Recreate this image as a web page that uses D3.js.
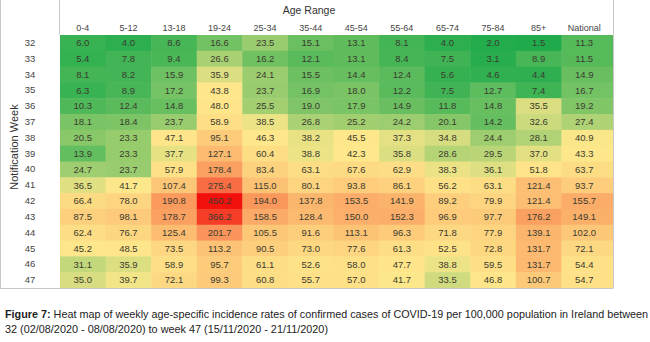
<!DOCTYPE html>
<html>
<head>
<meta charset="utf-8">
<script src="https://cdn.jsdelivr.net/npm/d3@7"></script>
<style>
  html, body { margin: 0; padding: 0; background: #fff; }
  svg { display: block; font-family: "Liberation Sans", Arial, sans-serif; }
</style>
</head>
<body>
<svg id="chart" width="650" height="342"></svg>
<script>
// Age groups (columns) and notification weeks (rows)
const ageGroups = ["0-4", "5-12", "13-18", "19-24", "25-34", "35-44", "45-54", "55-64", "65-74", "75-84", "85+", "National"];
const weeks = [32, 33, 34, 35, 36, 37, 38, 39, 40, 41, 42, 43, 44, 45, 46, 47];

// Weekly incidence per 100,000, one array per age group (weeks 32..47)
const age0_4   = [6.0, 5.4, 8.1, 6.3, 10.3, 18.1, 20.5, 13.9, 24.7, 36.5, 66.4, 87.5, 62.4, 45.2, 31.1, 35.0];
const age5_12  = [4.0, 7.8, 8.2, 8.9, 12.4, 18.4, 23.3, 23.3, 23.7, 41.7, 78.0, 98.1, 76.7, 48.5, 35.9, 39.7];
const age13_18 = [8.6, 9.4, 15.9, 17.2, 14.8, 23.7, 47.1, 37.7, 57.9, 107.4, 190.8, 178.7, 125.4, 73.5, 58.9, 72.1];
const age19_24 = [16.6, 26.6, 35.9, 43.8, 48.0, 58.9, 95.1, 127.1, 178.4, 275.4, 450.2, 366.2, 201.7, 113.2, 95.7, 99.3];
const age25_34 = [23.5, 16.2, 24.1, 23.7, 25.5, 38.5, 46.3, 60.4, 83.4, 115.0, 194.0, 158.5, 105.5, 90.5, 61.1, 60.8];
const age35_44 = [15.1, 12.1, 15.5, 16.9, 19.0, 26.8, 38.2, 38.8, 63.1, 80.1, 137.8, 128.4, 91.6, 73.0, 52.6, 55.7];
const age45_54 = [13.1, 13.1, 14.4, 18.0, 17.9, 25.2, 45.5, 42.3, 67.6, 93.8, 153.5, 150.0, 113.1, 77.6, 58.0, 57.0];
const age55_64 = [8.1, 8.4, 12.4, 12.2, 14.9, 24.2, 37.3, 35.8, 62.9, 86.1, 141.9, 152.3, 96.3, 61.3, 47.7, 41.7];
const age65_74 = [4.0, 7.5, 5.6, 7.5, 11.8, 20.1, 34.8, 28.6, 38.3, 56.2, 89.2, 96.9, 71.8, 52.5, 38.8, 33.5];
const age75_84 = [2.0, 3.1, 4.6, 12.7, 14.8, 14.2, 24.4, 29.5, 36.1, 63.1, 79.9, 97.7, 77.9, 72.8, 59.5, 46.8];
const age85p   = [1.5, 8.9, 4.4, 7.4, 35.5, 32.6, 28.1, 37.0, 51.8, 121.4, 121.4, 176.2, 139.1, 131.7, 131.7, 100.7];
const national = [11.3, 11.5, 14.9, 16.7, 19.2, 27.4, 40.9, 43.3, 63.7, 93.7, 155.7, 149.1, 102.0, 72.1, 54.4, 54.7];

const seriesByAge = [age0_4, age5_12, age13_18, age19_24, age25_34, age35_44,
                     age45_54, age55_64, age65_74, age75_84, age85p, national];

// Flatten to cells
const cells = [];
ageGroups.forEach((ag, ci) => {
  weeks.forEach((wk, ri) => {
    cells.push({ age: ag, week: wk, value: seriesByAge[ci][ri] });
  });
});

const svg = d3.select("#chart");
svg.append("rect").attr("width", 650).attr("height", 342).attr("fill", "#fff");

const gridLeft = 60, gridRight = 607, frameRight = 613, gridTop = 35, gridBottom = 288;

const x = d3.scaleBand().domain(ageGroups).range([gridLeft, gridRight]).padding(0);
const y = d3.scaleBand().domain(weeks).range([gridTop, gridBottom]).padding(0);
const lastAge = ageGroups[ageGroups.length - 1];

// Three-colour scale: green (low) -> yellow (mid) -> red (high)
const [vmin, vmax] = d3.extent(cells, d => d.value);
const color = d3.scaleLinear()
  .domain([vmin, 42, vmax])
  .range(["#1fab4b", "#fee88b", "#f3110d"])
  .interpolate(d3.interpolateRgb);

// Cells (the last column runs on to the table's right edge)
svg.append("g")
  .selectAll("rect")
  .data(cells)
  .join("rect")
  .attr("x", d => x(d.age))
  .attr("y", d => y(d.week))
  .attr("width", d => d.age === lastAge ? frameRight - x(d.age) : x.bandwidth() + 0.5)
  .attr("height", y.bandwidth() + 0.5)
  .attr("fill", d => color(d.value));

// Cell values
svg.append("g")
  .selectAll("text")
  .data(cells)
  .join("text")
  .attr("x", d => x(d.age) + x.bandwidth() / 2)
  .attr("y", d => y(d.week) + y.bandwidth() / 2)
  .attr("dy", "0.35em")
  .attr("text-anchor", "middle")
  .attr("font-size", 9.5)
  .attr("fill", "#3b3b30")
  .text(d => d.value.toFixed(1));

// Frame lines
const frame = svg.append("g").attr("stroke", "#c8c8c8").attr("stroke-width", 1).attr("fill", "none");
frame.append("line").attr("x1", 0.5).attr("x2", 0.5).attr("y1", 0).attr("y2", gridBottom);
frame.append("line").attr("x1", gridLeft - 0.5).attr("x2", gridLeft - 0.5).attr("y1", 0).attr("y2", gridTop);
frame.append("line").attr("x1", 0).attr("x2", frameRight + 0.5).attr("y1", gridBottom + 0.5).attr("y2", gridBottom + 0.5);
frame.append("line").attr("x1", frameRight + 0.5).attr("x2", frameRight + 0.5).attr("y1", 0).attr("y2", gridBottom);

// Column headers (top axis)
const topAxis = d3.axisTop(x).tickSize(0).tickPadding(0);
const gTop = svg.append("g").attr("transform", `translate(0, ${gridTop - 4})`).call(topAxis);
gTop.select(".domain").remove();
gTop.selectAll("text").attr("font-size", 9).attr("fill", "#444").attr("font-family", "Liberation Sans, Arial, sans-serif");

// Row headers (weeks)
const leftAxis = d3.axisLeft(y).tickSize(0).tickPadding(0);
const gLeft = svg.append("g").attr("transform", "translate(35, 0)").call(leftAxis);
gLeft.select(".domain").remove();
gLeft.selectAll("text").attr("font-size", 9.5).attr("fill", "#444").attr("text-anchor", "middle")
  .attr("x", -5).attr("font-family", "Liberation Sans, Arial, sans-serif");

// Axis titles
svg.append("text")
  .attr("x", 309).attr("y", 13.5)
  .attr("text-anchor", "middle")
  .attr("font-size", 10.5)
  .attr("fill", "#333")
  .text("Age Range");

svg.append("text")
  .attr("transform", "translate(18, 147) rotate(-90)")
  .attr("text-anchor", "middle")
  .attr("font-size", 11)
  .attr("fill", "#333")
  .text("Notification Week");

// Caption
const cap1 = svg.append("text").attr("x", 5).attr("y", 318).attr("font-size", 10.5).attr("fill", "#222")
  .attr("textLength", 643).attr("lengthAdjust", "spacingAndGlyphs");
cap1.append("tspan").attr("font-weight", "bold").text("Figure 7:");
cap1.append("tspan").text(" Heat map of weekly age-specific incidence rates of confirmed cases of COVID-19 per 100,000 population in Ireland between");

svg.append("text").attr("x", 5).attr("y", 333).attr("font-size", 10.5).attr("fill", "#222")
  .attr("textLength", 323).attr("lengthAdjust", "spacingAndGlyphs")
  .text("32 (02/08/2020 - 08/08/2020) to week 47 (15/11/2020 - 21/11/2020)");
</script>
</body>
</html>
